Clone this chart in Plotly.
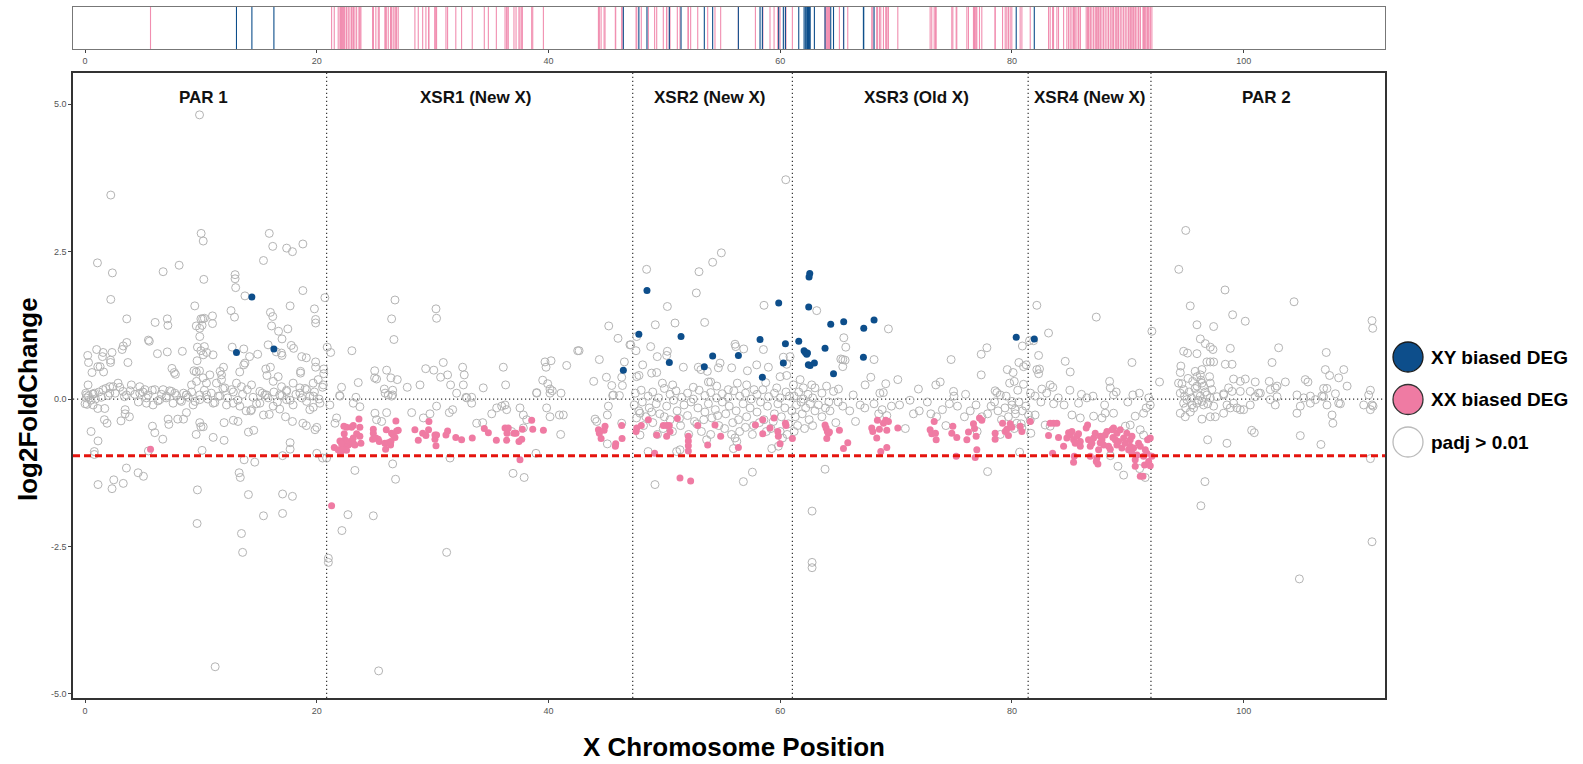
import plotly.graph_objects as go

# ---------------- data (x = position, y = log2FoldChange) ----------------
par1_gray = [
    (9.88,4.82),(2.22,3.46),(10.02,2.81),(10.2,2.68),(15.9,2.81),(16.2,2.59),(17.4,2.56),(17.9,2.50),(18.8,2.63),
    (1.07,2.31),(2.36,2.14),(6.74,2.16),(8.12,2.27),(10.25,2.03),(15.4,2.35),(12.95,2.11),(12.95,2.04),(13.0,1.89),
    (2.22,1.69),(13.8,1.75),(18.8,1.84),(20.7,1.72),(9.47,1.58),(17.7,1.58),(19.8,1.53),(12.6,1.50),(12.9,1.39),
    (16.0,1.47),(16.2,1.40),(16.1,1.24),(11.0,1.41),(11.0,1.28),(10.0,1.36),(10.15,1.36),(10.3,1.37),(9.6,1.24),
    (9.9,1.20),(10.1,1.25),(3.6,1.36),(6.05,1.30),(7.1,1.36),(7.15,1.25),(19.9,1.35),(19.9,1.29),(16.7,1.15),
    (17.5,1.19),(17.0,1.02),(9.9,1.06),(9.7,0.88),(10.0,0.82),(10.3,0.89),(10.2,0.75),(10.5,0.79),(9.67,0.65),
    (9.88,0.48),(5.47,1.0),(5.55,0.98),(1.0,0.84),(1.56,0.79),(2.33,0.79),(1.5,0.72),(0.23,0.74),(0.3,0.62),
    (3.2,0.84),(3.3,0.90),(3.6,0.96),(6.25,0.77),(7.1,0.8),(8.4,0.81),(11.05,0.75),(12.7,0.88),(13.7,0.85),
    (15.8,0.92),(16.95,0.78),(16.5,0.8),(17.0,0.74),(17.8,0.91),(18.0,0.86),(18.7,0.72),(19.1,0.7),(19.9,0.63),
    (19.9,0.54),(14.9,0.76),(14.2,0.72),(13.8,0.61),(13.7,0.58),(11.95,0.54),(11.66,0.47),(11.78,0.41),(13.35,0.46),
    (0.6,0.45),(1.1,0.55),(1.3,0.55),(1.6,0.46),(2.2,0.62),(2.2,0.66),(3.7,0.62),(7.5,0.52),(7.8,0.42),(7.7,0.45),
    (9.4,0.48),(9.6,0.46),(15.6,0.51),(16.0,0.54),(15.7,0.40),(18.6,0.47),(18.6,0.44),(20.6,0.51),(20.6,0.43),
    (0.26,0.24),(0.06,0.10),(0.84,0.10),(1.56,0.16),(2.13,0.21),(2.42,0.21),(2.85,0.27),(3.28,0.13),(4.0,0.24),
    (4.72,0.21),(5.16,0.16),(5.44,0.07),(6.02,0.16),(6.74,0.16),(7.46,0.13),(7.75,0.10),(8.75,0.07),(9.19,0.24),
    (9.62,0.30),(10.19,0.36),(10.48,0.27),(10.77,0.41),(11.34,0.27),(11.78,0.33),(12.06,0.19),(12.64,0.16),
    (13.07,0.27),(13.5,0.21),(14.37,0.24),(15.09,0.13),(15.52,0.07),(16.24,0.30),(16.67,0.38),(16.96,0.21),
    (17.39,0.13),(17.96,0.27),(18.54,0.19),(19.12,0.16),(19.69,0.27),(20.12,0.33),(20.56,0.24),
    (0.1,0.02),(0.3,0.05),(0.5,-0.02),(0.7,0.08),(0.9,0.0),(1.2,0.12),(1.4,0.03),(1.8,0.18),(2.0,0.06),(2.6,0.1),
    (3.0,0.2),(3.4,0.04),(3.9,0.14),(4.3,0.08),(4.6,-0.05),(5.0,0.12),(5.3,0.02),(5.8,0.15),(6.3,-0.03),(6.6,0.08),
    (7.0,0.02),(7.3,0.14),(7.9,0.06),(8.2,-0.02),(8.5,0.1),(8.9,0.03),(9.2,0.12),(9.5,-0.04),(9.9,0.07),(10.3,0.15),
    (10.6,0.0),(10.9,0.1),(11.2,-0.06),(11.5,0.05),(11.9,0.18),(12.3,0.02),(12.8,0.12),(13.2,-0.02),(13.6,0.08),
    (14.0,0.16),(14.5,0.03),(14.8,-0.08),(15.3,0.1),(15.8,0.02),(16.3,0.12),(16.6,-0.05),(17.0,0.06),(17.4,0.15),
    (17.7,-0.02),(18.2,0.08),(18.7,0.02),(19.0,0.18),(19.4,0.05),(19.8,0.12),(20.2,0.0),(20.5,0.2),
    (0.12,0.07),(0.69,0.09),(2.13,0.10),(3.57,0.07),(4.72,0.10),(5.3,-0.07),(5.87,-0.10),(6.45,-0.01),(7.03,0.05),
    (7.6,-0.07),(8.32,-0.04),(8.75,0.07),(9.33,-0.10),(9.9,-0.01),(10.48,0.07),(11.06,-0.07),(11.63,0.05),
    (12.21,-0.10),(12.78,-0.07),(13.36,-0.12),(14.37,-0.18),(15.09,-0.07),(15.66,0.07),(16.24,-0.12),(16.8,0.07),
    (17.39,-0.01),(17.96,-0.10),(18.54,0.10),(19.12,-0.04),(19.7,0.05),(20.27,-0.07),
    (0.52,-0.55),(1.12,-0.71),(1.67,-0.35),(1.9,-0.41),(0.8,-0.89),(0.8,-0.94),(1.12,-1.45),(2.33,-1.52),
    (2.48,-1.37),(3.3,-1.43),(3.57,-1.17),(4.58,-1.25),(5.04,-1.31),(3.1,-0.37),(3.83,-0.30),(3.46,-0.18),
    (3.46,-0.25),(5.47,-0.88),(5.82,-0.46),(6.02,-0.57),(6.71,-0.68),(7.23,-0.43),(7.17,-0.34),(8.0,-0.34),
    (8.5,-0.34),(8.75,-0.23),(9.7,-1.54),(9.67,-2.11),(9.59,-0.6),(9.9,-0.4),(10.0,-0.47),(10.2,-0.47),
    (10.1,-0.87),(11.06,-0.65),(11.23,-4.54),(12.0,-0.70),(12.0,-0.40),(12.8,-0.36),(13.2,-0.38),(13.3,-1.25),
    (13.4,-1.33),(13.5,-2.28),(13.6,-2.6),(13.73,-1.03),(14.65,-1.07),(14.1,-1.62),(14.1,-0.56),(14.56,-0.53),
    (13.9,-0.2),(14.3,-0.2),(15.4,-1.98),(15.4,-0.27),(15.9,-0.26),(17.05,-1.61),(17.05,-1.94),(17.9,-1.65),
    (17.7,-0.74),(17.7,-0.85),(17.05,-0.96),(17.3,-0.3),(17.9,-0.38),(18.8,-0.41),(19.1,-0.45),(19.85,-0.52),
    (20.0,-0.48),(20.0,-0.92),(20.5,-1.0),(16.8,-0.17),(19.4,-0.18),(19.7,-0.14),(0.18,-0.09),(0.0,-0.08),
    (0.7,-0.1),(1.1,-0.16),(1.7,-0.16),
]

xsr1_gray = [
    (26.75,1.68),(26.46,1.36),(26.66,1.01),(30.29,1.53),(30.34,1.37),(20.9,0.88),(21.2,0.79),(23.03,0.82),
    (30.92,0.62),(29.4,0.515),(30.1,0.49),(25.0,0.48),(26.03,0.49),(25.16,0.34),(24.99,0.36),(26.4,0.36),
    (26.95,0.33),(23.58,0.28),(22.14,0.2),(21.97,0.06),(23.38,0.03),(25.83,0.17),(26.55,0.15),(26.17,0.07),
    (26.55,0.07),(25.9,0.1),(27.81,0.2),(28.91,0.24),(30.69,0.37),(31.29,0.41),(31.55,0.24),(32.59,0.54),
    (32.73,0.41),(32.65,0.24),(32.88,0.03),(33.37,0.03),(34.37,0.19),(36.1,0.54),(36.3,0.24),(39.7,0.63),
    (39.79,0.54),(40.22,0.65),(39.5,0.32),(39.93,0.26),(40.13,0.17),(38.98,0.11),(40.33,0.14),(41.08,0.10),
    (41.57,0.57),(42.52,0.82),(42.64,0.82),(44.39,0.67),(45.2,1.24),(46.0,1.03),(43.9,0.30),(45.0,0.37),
    (45.46,0.23),(46.38,0.23),(46.32,0.37),(46.55,0.63),(45.6,0.07),(46.12,0.06),
    (21.13,-0.10),(21.71,-0.32),(21.57,-0.41),(20.85,-1.0),(23.29,-1.21),(22.69,-1.96),(24.88,-1.98),
    (22.17,-2.23),(21.0,-2.7),(21.0,-2.77),(25.34,-4.61),(31.21,-2.6),(26.55,-1.1),(26.8,-1.36),(36.94,-1.26),
    (37.9,-1.33),(31.5,-1.0),(38.92,-0.92),
    (22.0,0.05),(23.15,-0.07),(23.72,-0.13),(25.02,-0.24),(25.16,-0.35),(25.6,-0.38),(26.03,-0.23),(26.46,0.05),
    (28.19,-0.23),(29.2,-0.32),(29.77,-0.25),(30.34,-0.12),(31.44,-0.23),(31.73,-0.18),(32.07,0.1),(32.94,0.02),
    (33.37,-0.07),(33.8,-0.41),(34.32,-0.4),(35.1,-0.25),(35.53,-0.15),(35.96,-0.12),(36.25,-0.10),(36.39,-0.18),
    (37.54,-0.15),(37.83,-0.27),(38.12,-0.35),(38.98,0.1),(40.13,0.1),(39.84,-0.15),(40.13,-0.3),(40.94,-0.27),
    (41.28,-0.27),(41.05,-0.6),(37.83,-0.49),(36.82,-0.55),(44.02,-0.34),(44.16,-0.38),(45.08,-0.27),
    (45.08,-0.76),(45.17,-0.12),(45.54,0.06),(46.32,-0.41),
]

xsr2_gray = [
    (47.1,0.92),(47.55,0.82),(47.9,-0.24),(47.9,-0.61),
    (60.48,3.72),(48.47,2.2),(52.99,2.16),(54.17,2.32),(54.92,2.48),(52.76,1.80),(50.26,1.57),(49.22,1.26),
    (50.92,1.29),(53.48,1.30),(58.6,1.59),(48.82,0.89),(50.26,0.81),(50.2,0.74),(49.39,0.72),(47.61,1.06),
    (47.03,0.92),(56.1,0.93),(56.16,0.89),(56.85,0.85),(58.55,0.84),(60.27,0.71),(60.85,0.72),(60.56,0.59),
    (48.13,0.58),(51.64,0.54),(52.93,0.54),(53.16,0.50),(53.71,0.47),(54.81,0.61),(54.66,0.53),(55.81,0.53),
    (57.97,0.58),(58.98,0.54),(57.17,0.48),(49.34,0.45),(48.9,0.44),(47.61,0.38),(47.81,0.4),(49.83,0.27),
    (50.72,0.24),(52.5,0.2),(53.8,0.29),(54.0,0.29),(54.52,0.22),(55.52,0.16),(56.3,0.27),(57.1,0.24),
    (57.74,0.16),(58.75,0.28),(59.7,0.19),(59.99,0.38),(60.56,0.40),
    (47.5,0.1),(48.0,0.15),(48.6,0.05),(49.0,0.12),(49.5,0.02),(50.0,0.18),(50.5,0.08),(51.0,0.14),(51.5,0.03),
    (52.0,0.1),(52.5,0.0),(53.0,0.15),(53.5,0.06),(54.0,0.11),(54.5,0.02),(55.0,0.09),(55.5,0.03),(56.0,0.14),
    (56.5,0.05),(57.0,0.1),(57.5,0.0),(58.0,0.08),(58.5,0.16),(59.0,0.04),(59.5,0.1),(60.0,0.02),(60.5,0.12),
    (60.8,0.05),
    (49.19,-1.45),(56.82,-1.40),(57.6,-1.24),
    (48.6,-0.89),(51.06,-0.89),(51.35,-0.86),(55.96,-0.84),(59.27,-0.84),(59.84,-0.80),(53.65,-0.69),
    (56.1,-0.66),(56.25,-0.72),(60.2,-0.66),
    (47.4,-0.1),(47.8,-0.2),(48.1,-0.05),(48.4,-0.3),(48.7,-0.15),(49.0,-0.4),(49.3,-0.08),(49.6,-0.25),
    (49.9,-0.5),(50.2,-0.12),(50.5,-0.35),(50.8,-0.02),(51.1,-0.2),(51.4,-0.45),(51.7,-0.1),(52.0,-0.28),
    (52.3,-0.05),(52.6,-0.38),(52.9,-0.15),(53.2,-0.55),(53.5,-0.22),(53.8,-0.08),(54.1,-0.32),(54.4,-0.18),
    (54.7,-0.45),(55.0,-0.05),(55.3,-0.25),(55.6,-0.12),(55.9,-0.4),(56.2,-0.2),(56.5,-0.55),(56.8,-0.08),
    (57.1,-0.3),(57.4,-0.15),(57.7,-0.45),(58.0,-0.22),(58.3,-0.05),(58.6,-0.35),(58.9,-0.12),(59.2,-0.5),
    (59.5,-0.25),(59.8,-0.08),(60.1,-0.3),(60.4,-0.15),(60.7,-0.42),(61.0,-0.2),
    (47.6,-0.32),(48.2,-0.45),(48.9,-0.22),(49.4,-0.6),(50.0,-0.3),(50.7,-0.55),(51.3,-0.33),(52.1,-0.6),
    (52.8,-0.42),(53.4,-0.35),(54.0,-0.6),(54.6,-0.28),(55.2,-0.5),(55.8,-0.6),(56.4,-0.35),(57.0,-0.48),
    (57.6,-0.6),(58.2,-0.4),(58.8,-0.55),(59.4,-0.38),(60.0,-0.55),(60.6,-0.6),
]

xsr3_gray = [
    (63.15,1.50),(69.34,1.19),(65.49,1.04),(65.66,0.88),(65.23,0.68),(65.4,0.67),(65.6,0.66),(65.4,0.55),
    (68.1,0.67),(67.82,0.37),(67.33,0.24),(69.11,0.26),(70.15,0.33),(71.93,0.17),(73.43,0.24),(73.81,0.29),
    (74.75,0.67),(74.96,0.13),(77.35,0.76),(77.84,0.87),(77.35,0.41),(79.8,0.27),(78.55,0.14),(78.7,0.11),
    (78.99,0.07),
    (61.14,0.24),(61.72,0.33),(62.0,0.19),(62.72,0.24),(63.0,0.19),(63.6,0.1),(64.0,0.22),(64.6,0.13),
    (65.03,0.17),(66.3,0.07),(68.6,0.1),(68.9,0.11),
    (61.2,0.05),(61.4,-0.1),(61.6,0.12),(61.8,-0.05),(62.0,0.0),(62.2,-0.15),(62.4,0.08),(62.6,-0.08),
    (62.8,0.02),(63.0,-0.2),(61.3,-0.3),(61.9,-0.25),(62.5,-0.35),(61.5,-0.45),(62.1,-0.5),(61.2,-0.55),
    (62.8,-0.45),(63.3,-0.1),(63.6,-0.3),(64.2,-0.05),
    (62.75,-1.90),(62.75,-2.77),(62.75,-2.86),(63.87,-1.19),(77.9,-1.23),
    (63.9,-0.15),(64.3,-0.2),(65.0,-0.05),(65.4,-0.12),(66.0,-0.2),(66.9,-0.1),(67.3,-0.15),(68.1,-0.08),
    (68.5,-0.25),(68.8,-0.18),(69.2,-0.28),(69.6,-0.12),(70.3,-0.1),(71.5,-0.25),(72.0,-0.2),(72.7,-0.05),
    (73.0,-0.25),(73.5,-0.3),(74.0,-0.18),(74.6,-0.08),(75.3,-0.12),(75.9,-0.3),(76.4,-0.2),(76.9,-0.1),
    (77.4,-0.3),(77.9,-0.25),(78.2,-0.12),(78.5,-0.05),(78.8,-0.2),(79.1,-0.35),(79.4,-0.15),(79.7,-0.3),
    (80.0,-0.1),(80.3,-0.25),(80.6,-0.05),(80.9,-0.2),(81.2,-0.12),(64.8,-0.4),(66.5,-0.38),(70.8,-0.5),
    (74.3,-0.45),(77.0,-0.55),(79.0,-0.6),(80.2,-0.5),(80.8,-0.42),(71.2,-0.02),(75.0,0.05),(76.0,0.08),
    (79.5,0.05),(80.5,0.15),(81.0,0.25),(80.2,0.3),(80.1,0.45),(80.6,0.62),(80.9,0.9),(79.6,0.5),
]

xsr4_gray = [
    (82.15,1.59),(87.28,1.39),(83.16,1.12),(92.08,1.15),(82.3,0.74),(84.6,0.64),(85.03,0.46),(90.36,0.62),
    (81.0,0.55),(81.23,0.58),(82.15,0.5),(82.3,0.43),(82.38,0.51),(81.52,0.99),(81.87,0.99),(83.3,0.24),
    (83.53,0.20),(82.58,0.17),(88.43,0.30),(88.49,0.19),(86.47,0.02),(88.77,0.07),(90.44,0.07),
    (80.66,-0.9),(89.15,-1.14),(89.64,-1.29),(91.5,-1.33),(91.02,-1.18),(88.49,-0.96),(83.6,-0.08),
    (85.75,-0.07),(83.3,-0.46),(82.87,-0.44),(81.58,-0.36),(81.63,-0.58),(81.43,-0.27),(82.0,-0.27),
    (80.43,-0.41),(80.86,-0.49),(80.0,-0.04),(80.28,-0.18),(85.18,-0.27),(85.9,-0.32),(87.05,-0.29),
    (87.77,-0.32),(88.05,-0.24),(88.77,-0.24),(89.79,-0.46),(90.21,-0.44),(90.64,-0.29),(91.36,-0.24),
    (91.59,-0.15),(91.94,-0.10),(91.07,-0.52),(91.36,-0.61),
    (81.6,0.1),(82.0,0.05),(82.5,-0.05),(83.0,0.1),(84.0,0.02),(84.5,-0.1),(85.0,0.15),(86.0,0.08),
    (87.0,0.05),(88.0,-0.1),(89.0,0.12),(90.0,-0.05),(91.0,0.1),(91.8,0.02),
]

par2_gray = [
    (95.0,2.86),(94.4,2.2),(98.39,1.85),(104.35,1.65),(95.39,1.58),(99.05,1.43),(100.14,1.32),(95.97,1.26),
    (97.41,1.23),(111.08,1.33),(111.14,1.2),(96.26,1.02),(96.69,0.94),(97.12,0.88),(97.35,0.84),(94.82,0.81),
    (95.16,0.78),(95.97,0.77),(98.85,0.86),(103.02,0.87),(107.13,0.79),(96.83,0.63),(97.12,0.63),(97.41,0.63),
    (98.42,0.59),(99.0,0.59),(102.45,0.62),(108.64,0.5),(107.05,0.5),(107.42,0.4),(108.2,0.36),(94.58,0.56),
    (94.53,0.45),(95.82,0.47),(96.4,0.5),(96.26,0.41),(95.97,0.38),(97.06,0.38),(92.74,0.29),(94.38,0.27),
    (94.67,0.26),(94.82,0.16),(96.31,0.32),(96.4,0.27),(95.97,0.22),(96.54,0.22),(97.12,0.27),(97.26,0.16),
    (99.13,0.34),(99.71,0.3),(100.14,0.34),(101.0,0.29),(102.21,0.3),(102.88,0.22),(103.6,0.29),(105.32,0.33),
    (105.55,0.29),(106.9,0.18),(107.19,0.18),(108.93,0.22),(110.94,0.15),(98.27,0.09),(98.7,0.19),(99.0,0.13),
    (99.71,0.13),(100.57,0.13),(101.29,0.1),(102.3,0.16),(102.73,0.19),(104.6,0.07),(105.76,0.05),(106.75,0.05),
    (107.92,0.09),(110.79,0.07),
    (96.66,-1.40),(96.31,-1.81),(104.81,-3.05),(111.08,-2.42),(110.94,-1.01),(96.89,-0.69),(98.56,-0.75),
    (100.69,-0.53),(100.92,-0.57),(104.89,-0.62),(106.67,-0.77),
    (94.53,0.1),(94.82,-0.07),(95.1,-0.01),(95.54,-0.1),(95.68,-0.15),(95.97,-0.07),(96.26,0.05),(96.4,-0.04),
    (96.54,-0.1),(96.83,0.07),(97.12,0.02),(97.41,-0.12),(97.7,0.04),(98.27,0.07),(98.56,-0.1),(98.85,-0.15),
    (99.13,-0.07),(99.42,-0.15),(99.71,-0.18),(100.0,-0.18),(100.57,-0.1),(101.0,0.04),(101.44,0.1),
    (102.3,-0.01),(102.73,-0.1),(102.88,0.04),(104.6,-0.24),(104.89,-0.12),(105.18,0.02),(105.76,-0.07),
    (106.19,-0.01),(106.9,0.04),(107.19,-0.1),(107.63,-0.27),(107.7,-0.41),(108.2,-0.07),(108.35,-0.08),
    (110.36,-0.1),(110.94,-0.18),(111.08,-0.1),(111.17,-0.12),(94.53,-0.24),(94.96,-0.3),(96.4,-0.34),
    (97.12,-0.3),(97.55,-0.3),(98.27,-0.24),
    (94.9,0.05),(95.3,0.12),(95.5,0.02),(95.8,0.18),(96.1,-0.02),(96.0,0.08),(95.6,0.3),(95.2,0.35),
    (96.7,0.12),(96.9,-0.08),(95.0,-0.15),(95.4,-0.22),
]

xx_deg = [  # XX biased DEG (pink)
    (5.65,-0.85),(21.28,-1.81),
    (21.51,-0.82),(21.85,-0.86),(22.05,-0.92),(22.28,-0.79),(22.43,-0.69),(22.57,-0.75),(22.72,-0.78),
    (22.86,-0.72),(23.0,-0.75),(23.15,-0.75),(23.29,-0.78),(22.0,-0.71),(22.14,-0.76),(22.37,-0.59),
    (22.57,-0.48),(23.15,-0.45),(23.64,-0.34),(23.72,-0.48),(23.72,-0.63),(23.81,-0.75),(23.44,-0.59),
    (23.0,-0.48),(22.34,-0.46),(22.57,-0.87),(22.23,-0.86),(23.15,-0.66),
    (24.88,-0.51),(24.88,-0.58),(24.82,-0.68),(25.1,-0.66),(25.31,-0.68),(25.39,-0.72),(25.88,-0.75),
    (25.94,-0.85),(26.17,-0.74),(26.37,-0.78),(26.0,-0.52),(26.83,-0.37),(26.46,-0.58),(26.6,-0.61),
    (26.89,-0.54),(27.03,-0.53),(26.75,-0.65),(26.4,-0.72),
    (28.47,-0.52),(28.76,-0.70),(29.14,-0.58),(29.42,-0.62),(29.68,-0.38),(29.65,-0.52),(30.2,-0.61),
    (30.2,-0.68),(30.34,-0.61),(30.29,-0.79),(31.15,-0.61),(31.29,-0.54),
    (32.0,-0.65),(32.5,-0.69),(33.42,-0.66),(34.46,-0.5),(34.81,-0.57),(35.5,-0.70),(36.25,-0.49),
    (36.42,-0.58),(36.53,-0.49),(36.39,-0.70),(37.02,-0.58),(37.2,-0.58),(37.45,-0.72),(37.54,-1.03),
    (37.74,-0.51),(37.69,-0.68),(38.55,-0.36),(38.64,-0.51),(39.56,-0.53),
    (44.31,-0.52),(44.39,-0.58),(44.8,-0.53),(44.88,-0.46),(44.54,-0.67),(45.8,-0.76),(45.77,-0.80),
    (46.32,-0.45),(46.35,-0.67),(47.56,-0.55),(47.62,-0.49),
    (51.35,-1.34),(52.27,-1.39),(52.07,-0.63),(52.07,-0.71),(52.07,-0.79),(52.07,-0.88),(49.34,-0.61),
    (49.91,-0.45),(50.2,-0.45),(50.43,-0.45),(50.2,-0.63),(50.49,-0.55),(51.12,-0.33),(48.62,-0.35),
    (48.01,-0.45),(49.16,-0.92),(52.88,-0.45),(53.74,-0.78),(54.37,-0.44),(54.86,-0.63),(56.39,-0.82),
    (57.86,-0.44),(58.49,-0.35),(58.49,-0.59),(59.12,-0.49),(59.47,-0.32),(59.79,-0.55),(59.84,-0.63),
    (59.99,-0.76),(60.45,-0.41),(60.5,-0.45),(61.05,-0.67),
    (63.87,-0.44),(63.96,-0.49),(64.07,-0.55),(64.16,-0.58),(64.02,-0.67),(64.25,-0.56),(65.11,-0.53),
    (65.46,-0.84),(65.83,-0.74),(67.9,-0.49),(67.99,-0.55),(68.33,-0.66),(68.39,-0.36),(68.56,-0.51),
    (68.68,-0.89),(68.91,-0.41),(69.11,-0.36),(69.2,-0.53),(69.2,-0.82),(69.34,-0.38),(70.15,-0.49),
    (72.94,-0.52),(73.08,-0.59),(73.29,-0.38),(73.4,-0.58),(73.46,-0.69),(74.81,-0.58),(74.9,-0.46),
    (75.24,-0.65),(75.19,-0.97),(76.11,-0.69),(76.25,-0.56),(76.68,-0.42),(76.77,-0.50),(76.91,-0.63),
    (76.97,-0.86),(76.83,-0.99),(77.2,-0.32),(77.4,-0.36),(78.55,-0.58),(78.55,-0.68),(79.19,-0.41),
    (79.42,-0.55),(79.56,-0.51),(79.7,-0.62),(79.85,-0.42),(79.99,-0.48),
    (80.71,-0.46),(80.86,-0.55),(81.58,-0.38),(83.16,-0.62),(83.3,-0.41),(83.59,-0.41),(83.88,-0.41),
    (83.51,-0.92),(84.02,-0.65),(84.46,-0.8),(84.74,-0.66),(84.89,-0.57),(85.03,-0.61),(85.18,-0.55),
    (85.32,-0.69),(85.38,-0.97),(85.32,-1.07),(85.46,-0.75),(85.61,-0.63),(85.75,-0.59),(85.9,-0.72),
    (85.9,-0.8),(86.41,-0.49),(86.53,-0.44),(86.61,-0.69),(86.76,-0.8),(86.76,-0.97),(86.9,-0.75),
    (87.05,-0.66),(87.19,-0.58),(87.28,-1.06),(87.33,-1.0),(87.42,-1.1),(87.48,-0.86),(87.62,-0.74),
    (87.62,-0.63),(87.77,-0.69),(87.91,-0.78),(88.05,-0.61),(88.2,-0.55),(88.34,-0.8),(88.49,-0.85),
    (88.63,-0.52),(88.72,-0.65),(88.77,-0.49),(88.92,-0.69),(89.06,-0.78),(89.06,-0.58),(89.2,-0.72),
    (89.35,-0.52),(89.49,-0.83),(89.64,-0.66),(89.78,-0.75),(89.92,-0.58),(90.07,-0.86),(90.21,-0.69),
    (90.21,-0.8),(90.36,-0.63),(90.36,-0.92),(90.5,-0.83),(90.64,-1.03),(90.64,-1.14),(90.79,-0.95),
    (90.93,-0.75),(91.08,-0.8),(91.08,-1.31),(91.31,-1.31),(91.36,-0.97),(91.45,-1.12),(91.51,-0.86),
    (91.65,-0.92),(91.71,-0.69),(91.8,-1.06),(91.94,-0.66),(91.94,-1.13),(92.08,-0.97),
]

xy_deg = [  # XY biased DEG (blue)
    (13.07,0.79),(14.4,1.73),(16.3,0.85),(46.46,0.49),(47.8,1.10),(48.5,1.84),(51.44,1.06),(50.43,0.62),
    (53.45,0.55),(54.17,0.73),(56.39,0.74),(58.26,1.01),(58.46,0.37),(59.87,1.63),(60.45,0.94),(60.27,0.61),
    (62.55,2.13),(62.49,2.07),(62.46,1.56),(61.6,0.98),(62.06,0.82),(62.17,0.79),(62.35,0.78),(62.29,0.76),
    (62.43,0.58),(62.58,0.57),(62.95,0.61),(63.87,0.86),(64.36,1.27),(65.48,1.31),(64.6,0.43),(67.21,1.20),
    (67.18,0.71),(68.1,1.34),(80.37,1.05),(81.93,1.02),
]

region_bounds = [20.85, 47.27, 61.05, 81.4, 92.0]
region_labels = ["PAR 1", "XSR1 (New X)", "XSR2 (New X)", "XSR3 (Old X)", "XSR4 (New X)", "PAR 2"]
region_label_x = [10.2, 33.7, 53.9, 71.8, 86.7, 102.0]
fc_threshold = -0.96
x_ticks = [0, 20, 40, 60, 80, 100]
y_ticks = [-5.0, -2.5, 0.0, 2.5, 5.0]
y_tick_text = ["-5.0", "-2.5", "0.0", "2.5", "5.0"]

# ---------------- styling ----------------
PINK = "#EF7BA3"
BLUE = "#0D4E8B"
GRAY = "#B4B4B4"
FONT = "Liberation Sans, Arial, sans-serif"
W, H = 1583, 764
ML, MR, MT, MB = 73, 198, 7, 66
PW, PH = W - ML - MR, H - MT - MB


def px_x(X):
    return (X - ML) / PW


def px_y(Y):
    return (H - MB - Y) / PH


gray_all = par1_gray + xsr1_gray + xsr2_gray + xsr3_gray + xsr4_gray + par2_gray

fig = go.Figure()

fig.add_trace(go.Scatter(
    x=[p[0] for p in gray_all], y=[p[1] for p in gray_all], mode="markers",
    marker=dict(symbol="circle-open", size=8, color=GRAY, line=dict(width=1, color=GRAY)),
    showlegend=False, hoverinfo="skip"))
fig.add_trace(go.Scatter(
    x=[p[0] for p in xx_deg], y=[p[1] for p in xx_deg], mode="markers",
    marker=dict(symbol="circle", size=7, color=PINK, line=dict(width=0)),
    showlegend=False, hoverinfo="skip"))
fig.add_trace(go.Scatter(
    x=[p[0] for p in xy_deg], y=[p[1] for p in xy_deg], mode="markers",
    marker=dict(symbol="circle", size=7, color=BLUE, line=dict(width=0)),
    showlegend=False, hoverinfo="skip"))


# strip of DEG positions
def seg(xs):
    lx, ly = [], []
    for v in xs:
        lx += [v, v, None]
        ly += [0, 1, None]
    return lx, ly


sx, sy = seg([p[0] for p in xx_deg])
fig.add_trace(go.Scatter(x=sx, y=sy, mode="lines", xaxis="x2", yaxis="y2",
                         line=dict(color=PINK, width=1.1), opacity=0.85,
                         showlegend=False, hoverinfo="skip"))
sx, sy = seg([p[0] for p in xy_deg])
fig.add_trace(go.Scatter(x=sx, y=sy, mode="lines", xaxis="x2", yaxis="y2",
                         line=dict(color=BLUE, width=1.1),
                         showlegend=False, hoverinfo="skip"))

main_top = px_y(73)
strip_bot = px_y(49)

xr = [-1.04, 112.2]
axis_common = dict(showgrid=False, zeroline=False, ticks="outside", ticklen=3, tickwidth=1,
                   tickcolor="#444", tickfont=dict(size=9, color="#555", family=FONT),
                   showline=True, linecolor="#333", linewidth=1.5, mirror=True)

fig.update_layout(
    width=W, height=H, margin=dict(l=ML, r=MR, t=MT, b=MB),
    plot_bgcolor="white", paper_bgcolor="white",
    xaxis=dict(domain=[0, 1], range=xr, tickvals=x_ticks, anchor="y", **axis_common),
    yaxis=dict(domain=[0, main_top], range=[-5.07, 5.53], tickvals=y_ticks, ticktext=y_tick_text,
               anchor="x", **axis_common),
    xaxis2=dict(domain=[0, 1], range=xr, tickvals=x_ticks, anchor="y2",
                **{**axis_common, "linecolor": "#777", "linewidth": 1.2}),
    yaxis2=dict(domain=[strip_bot, 1.0], range=[0, 1], anchor="x2", showgrid=False, zeroline=False,
                showticklabels=False, ticks="", showline=True, linecolor="#777", linewidth=1.2, mirror=True),
    showlegend=False,
)

# region boundaries, zero line, threshold
DOT = "1.2px,2.8px"
for b in region_bounds:
    fig.add_shape(type="line", xref="x", yref="y domain", x0=b, x1=b, y0=0, y1=1,
                  line=dict(color="#333", width=1.2, dash=DOT), layer="below")
fig.add_shape(type="line", xref="x domain", yref="y", x0=0, x1=1, y0=0, y1=0,
              line=dict(color="#333", width=1.2, dash=DOT), layer="below")
fig.add_shape(type="line", xref="x domain", yref="y", x0=0, x1=1, y0=fc_threshold, y1=fc_threshold,
              line=dict(color="#E5140E", width=3, dash="7px,4px"), layer="above")

for lab, lx in zip(region_labels, region_label_x):
    fig.add_annotation(x=lx, y=5.12, xref="x", yref="y", text=lab, showarrow=False,
                       font=dict(size=17, color="#111", family=FONT, weight="bold"))

# axis titles
fig.add_annotation(x=px_x(28), y=px_y(399), xref="paper", yref="paper", text="log2FoldChange",
                   textangle=-90, showarrow=False, xanchor="center", yanchor="middle",
                   font=dict(size=26, color="#000", family=FONT, weight="bold"))
fig.add_annotation(x=px_x(734), y=px_y(747), xref="paper", yref="paper", text="X Chromosome Position",
                   showarrow=False, xanchor="center", yanchor="middle",
                   font=dict(size=26, color="#000", family=FONT, weight="bold"))

# legend (drawn manually)
legend_items = [("XY biased DEG", BLUE, "#1a1a1a"), ("XX biased DEG", PINK, "#333"),
                ("padj > 0.01", "white", "#BBBBBB")]
for i, (lab, fc, lc) in enumerate(legend_items):
    cy = 357 + i * 42.5
    fig.add_shape(type="circle", xref="paper", yref="paper", xsizemode="pixel", ysizemode="pixel",
                  xanchor=px_x(1408), yanchor=px_y(cy), x0=-15, x1=15, y0=-15, y1=15,
                  fillcolor=fc, line=dict(color=lc, width=1.3))
    fig.add_annotation(x=px_x(1429), y=px_y(cy), xref="paper", yref="paper", text=lab,
                       xanchor="left", yanchor="middle", showarrow=False,
                       font=dict(size=19, color="#000", family=FONT, weight="bold"))

fig.write_html("out.html")
